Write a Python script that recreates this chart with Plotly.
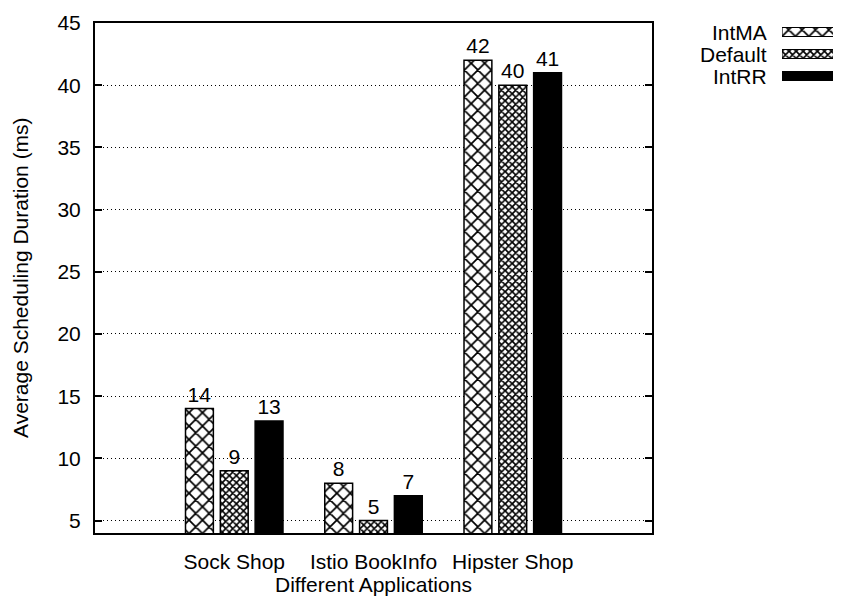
import plotly.graph_objects as go

categories = ["Sock Shop", "Istio BookInfo", "Hipster Shop"]
series_names = ["IntMA", "Default", "IntRR"]
intma = [14, 8, 42]
default = [9, 5, 40]
intrr = [13, 7, 41]
y_ticks = [5, 10, 15, 20, 25, 30, 35, 40, 45]

values = [intma, default, intrr]
patterns = [
    dict(shape="x", size=9.5, solidity=0.33, fgcolor="black", bgcolor="white", fgopacity=1),
    dict(shape="x", size=5, solidity=0.55, fgcolor="black", bgcolor="white", fgopacity=1),
    dict(shape="", fgcolor="black", bgcolor="black"),
]
fills = ["white", "white", "black"]
offsets = [-0.35, -0.1, 0.15]

FONT = "Liberation Sans, Arial, Helvetica, sans-serif"
FS = 21
W, H = 833, 588
L, R, T, B = 87, 3, 15, 63
pw = W - L - R
ph = H - T - B
main_right = 644

fig = go.Figure()
xs = list(range(len(categories)))
for name, vals, pat, fc, off in zip(series_names, values, patterns, fills, offsets):
    fig.add_trace(go.Bar(
        x=xs, y=vals, width=0.2, offset=off, name=name,
        marker=dict(color=fc, line=dict(color="black", width=1.5), pattern=pat),
        text=[str(v) for v in vals], textposition="outside",
        textfont=dict(family=FONT, size=FS, color="black"),
        constraintext="none", cliponaxis=False, showlegend=False,
    ))

# legend samples on a separate small axis
leg_rows = list(range(len(series_names)))
for name, pat, fc, row in zip(series_names, patterns, fills, leg_rows):
    fig.add_trace(go.Bar(
        x=[1], y=[row], base=0, orientation="h", width=0.41,
        marker=dict(color=fc, line=dict(color="black", width=1.2), pattern=pat),
        xaxis="x2", yaxis="y2", showlegend=False, hoverinfo="skip",
    ))
    fig.add_annotation(
        x=(761 - L) / pw, xref="paper", y=row, yref="y2", text=name,
        showarrow=False, xanchor="right", yanchor="middle",
        font=dict(family=FONT, size=FS, color="black"),
    )

# axis titles
fig.add_annotation(
    x=(12 - L) / pw, xref="paper", y=0.5, yref="paper",
    text="Average Scheduling Duration (ms)", textangle=-90,
    showarrow=False, xanchor="center", yanchor="middle",
    font=dict(family=FONT, size=FS, color="black"),
)
fig.add_annotation(
    x=((L + main_right) / 2 - L) / pw, xref="paper", y=-(576 - (H - B)) / ph, yref="paper",
    text="Different Applications",
    showarrow=False, xanchor="center", yanchor="middle",
    font=dict(family=FONT, size=FS, color="black"),
)

fig.update_layout(
    width=W, height=H,
    margin=dict(l=L, r=R, t=T, b=B, pad=0),
    paper_bgcolor="white", plot_bgcolor="white",
    font=dict(family=FONT, size=FS, color="black"),
    barmode="overlay",
    xaxis=dict(
        domain=[0, (main_right - L) / pw], range=[-1, 3],
        tickmode="array", tickvals=xs, ticktext=categories, ticks="",
        ticklabelstandoff=9,
        showgrid=False, zeroline=False,
        showline=True, linecolor="black", linewidth=2, mirror=True,
        tickfont=dict(family=FONT, size=FS),
    ),
    yaxis=dict(
        range=[4, 45], tickmode="array", tickvals=y_ticks,
        ticks="inside", ticklen=7, tickwidth=1.5, tickcolor="black",
        ticklabelstandoff=8,
        showgrid=True, gridcolor="black", gridwidth=1, griddash="1px,3px",
        zeroline=False, showline=True, linecolor="black", linewidth=2, mirror="ticks",
        tickfont=dict(family=FONT, size=FS),
    ),
    xaxis2=dict(
        domain=[(774 - L) / pw, (830 - L) / pw], range=[0, 1], anchor="y2",
        visible=False, fixedrange=True,
    ),
    yaxis2=dict(
        domain=[((H - B) - 79) / ph, 1.0],
        range=[2.5, -0.409], anchor="x2", visible=False, fixedrange=True,
    ),
)

fig.write_html("out.html")
